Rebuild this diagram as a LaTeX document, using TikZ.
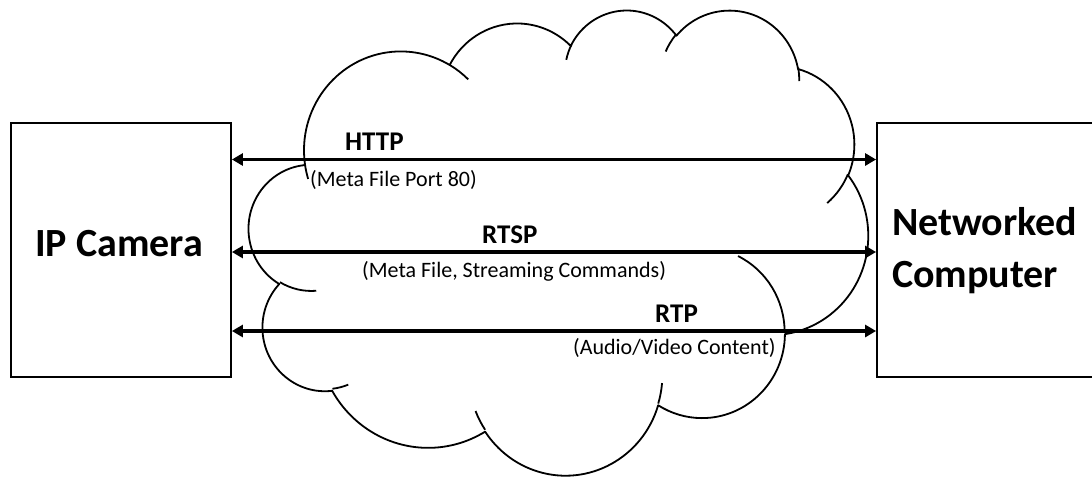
\documentclass[tikz,border=0pt]{standalone}
\usepackage{fontspec}
\setmainfont{Carlito}
\usetikzlibrary{arrows.meta}

% Elliptical cloud arc: radii (in thousandths of the cloud frame), visual start angle, sweep.
% The visual angles are turned into parametric ones for TikZ's arc.
\newcommand\cloudcalc[4]{%
  \pgfmathsetmacro\cA{atan2(#1*sin(#3),#2*cos(#3))}%
  \pgfmathsetmacro\cB{atan2(#1*sin(#3+#4),#2*cos(#3+#4))}%
  \pgfmathsetmacro\cS{0-(\cA)}%
  \pgfmathsetmacro\cE{\cS-mod(\cB-(\cA)+720,360)}%
  \pgfmathsetmacro\cX{#1*14.3287}%
  \pgfmathsetmacro\cY{#2*10.7639}%
  \global\let\cS\cS \global\let\cE\cE \global\let\cX\cX \global\let\cY\cY}
\newcommand\carc[4]{\pgfextra{\cloudcalc{#1}{#2}{#3}{#4}} arc[start angle=\cS, end angle=\cE, x radius=\cX pt, y radius=\cY pt]}

\begin{document}
\begin{tikzpicture}[x=1pt,y=1pt,
  box/.style={draw=black, line width=1.8pt, fill=white, rectangle,
    minimum width=220pt, minimum height=254pt, inner sep=0pt},
  cloudline/.style={draw=black, line width=1.8pt, line join=round},
  link/.style={line width=3.2pt,
    {Triangle[length=11pt,width=12pt]}-{Triangle[length=11pt,width=12pt]}},
  proto/.style={font=\fontsize{27}{32}\selectfont\bfseries, inner sep=0pt, anchor=base west},
  note/.style={font=\fontsize{22}{26}\selectfont, inner sep=0pt, anchor=base west},
  big/.style={font=\fontsize{40}{52}\selectfont\bfseries, inner sep=0pt}]

\useasboundingbox (0,0) rectangle (1092,-477);
\clip (0,0) rectangle (1092,-477);

% the network cloud
\begin{scope}[x=14.3287pt, y=-10.7639pt, shift={(249pt,-9pt)}]
  \draw[cloudline, fill=white] (3.900,14.370)
    \carc{6.753}{9.190}{-190.48748}{123.78053}
    \carc{5.333}{7.267}{-144.10238}{89.94523}
    \carc{4.365}{5.945}{-145.80792}{99.72302}
    \carc{4.857}{6.595}{-130.98607}{117.24173}
    \carc{5.333}{7.273}{-78.70888}{109.02692}
    \carc{6.775}{9.220}{-46.26725}{130.26900}
    \carc{5.785}{7.867}{0.62502}{114.03333}
    \carc{6.752}{9.215}{22.45160}{115.17255}
    \carc{7.720}{10.543}{66.24263}{75.71102}
    \carc{4.360}{5.918}{-274.94208}{146.73557}
    \carc{4.345}{5.945}{-246.82850}{152.51885}
    -- cycle;
  % small inner arcs where the bumps meet
  \draw[cloudline]
    (4.693,26.177) \carc{4.345}{5.945}{86.74200}{26.42950}
    (6.928,34.899) \carc{4.360}{5.918}{73.61047}{11.44747}
    (16.478,39.090) \carc{6.752}{9.215}{137.62415}{14.08110}
    (28.827,34.751) \carc{6.752}{9.215}{6.45327}{15.99835}
    (34.129,22.954) \carc{5.785}{7.867}{-70.29235}{70.91737}
    (41.798,15.354) \carc{5.333}{7.273}{30.31803}{27.75150}
    (38.324,5.426) \carc{4.857}{6.595}{-13.74433}{14.85890}
    (29.078,3.952) \carc{4.857}{6.595}{-149.18145}{18.19537}
    (22.141,4.720) \carc{4.365}{5.945}{-163.49427}{17.68635}
    (14.000,5.192) \carc{6.753}{9.190}{-66.70695}{12.31935}
    (4.127,15.789) \carc{6.753}{9.190}{157.65435}{11.85817};
\end{scope}

% end points
\node[box] (camera) at (121,-250) {};
\node[box] (computer) at (987,-250) {};
\node[big, anchor=base west] (camlabel) at (35,-256) {IP Camera};
\node[big, align=left, anchor=north west] (complabel) at (892,-207) {Networked\\Computer};

% protocol links
\coordinate (lvhttp) at (0,-159.5);
\coordinate (lvrtsp) at (0,-252);
\coordinate (lvrtp) at (0,-331);
\draw[link] (camera.east |- lvhttp) -- (computer.west |- lvhttp);
\draw[link] (camera.east |- lvrtsp) -- (computer.west |- lvrtsp);
\draw[link] (camera.east |- lvrtp) -- (computer.west |- lvrtp);

\node[proto] (http) at (345,-150) {HTTP};
\node[note] (httpnote) at (310,-186) {(Meta File Port 80)};
\node[proto] (rtsp) at (482,-243) {RTSP};
\node[note] (rtspnote) at (362,-277) {(Meta File, Streaming Commands)};
\node[proto] (rtp) at (655,-322) {RTP};
\node[note] (rtpnote) at (573,-354) {(Audio/Video Content)};
\end{tikzpicture}
\end{document}
